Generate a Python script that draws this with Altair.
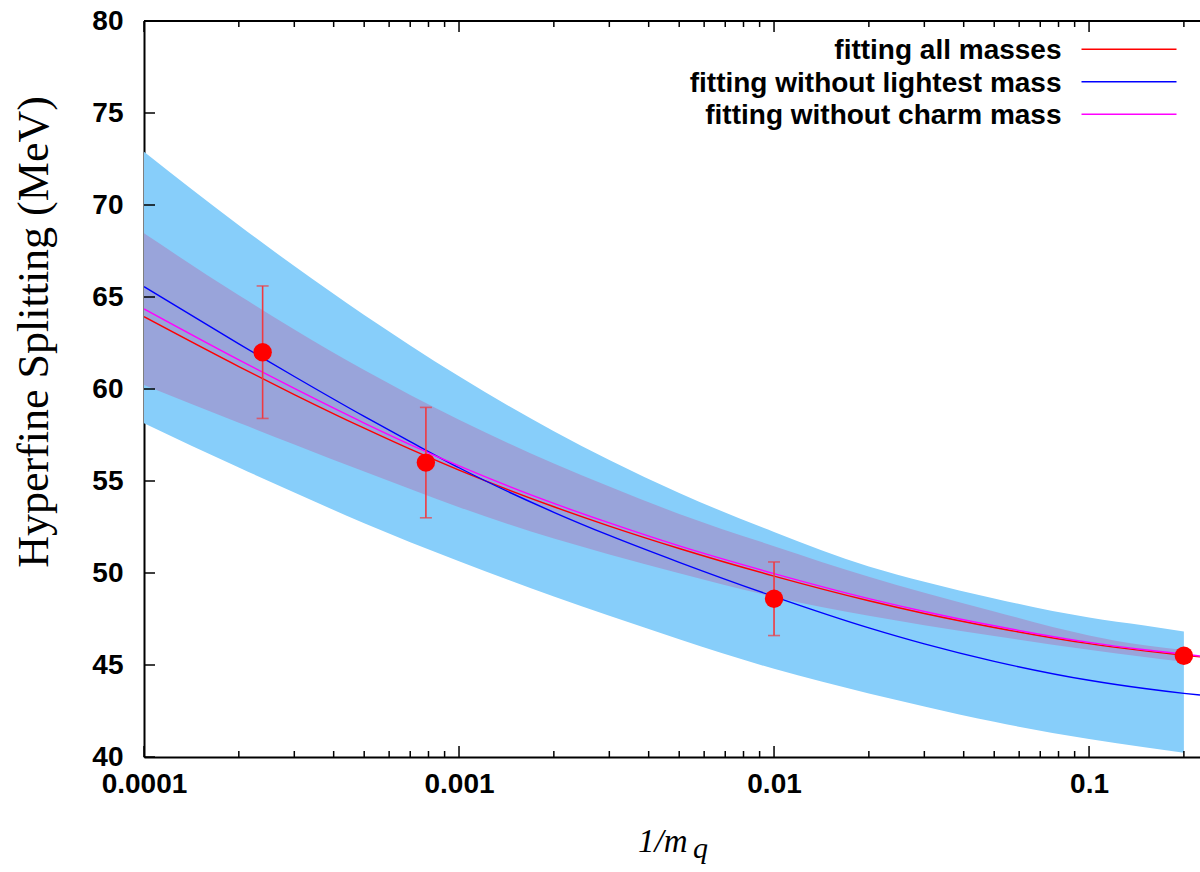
import altair as alt
import pandas as pd

# ---------------- data ----------------
x_fit = [1e-4, 2e-4, 3e-4, 5e-4, 7e-4, 1e-3, 2e-3, 3e-3, 5e-3, 1e-2, 2e-2, 3e-2, 5e-2, 0.1, 0.15, 0.2, 0.225]
fit_all = [63.93, 61.22, 59.70, 57.87, 56.73, 55.59, 53.60, 52.55, 51.33, 49.83, 48.49, 47.80, 47.04, 46.16, 45.77, 45.53, 45.44]
fit_no_light = [65.56, 62.45, 60.68, 58.51, 57.14, 55.72, 53.30, 52.04, 50.58, 48.72, 47.02, 46.15, 45.20, 44.17, 43.72, 43.46, 43.37]
fit_no_charm = [64.35, 61.58, 60.03, 58.15, 56.98, 55.82, 53.78, 52.72, 51.47, 49.97, 48.61, 47.91, 47.13, 46.23, 45.83, 45.59, 45.49]

x_band = [1e-4, 2e-4, 3e-4, 5e-4, 7e-4, 1e-3, 2e-3, 3e-3, 5e-3, 1e-2, 2e-2, 3e-2, 5e-2, 0.1, 0.15, 0.2]
outer_hi = [72.90, 68.90, 66.68, 64.02, 62.37, 60.69, 57.70, 56.14, 54.35, 52.23, 50.36, 49.53, 48.62, 47.58, 47.14, 46.82]
outer_lo = [58.14, 55.73, 54.38, 52.70, 51.67, 50.64, 48.72, 47.67, 46.40, 44.79, 43.45, 42.75, 41.91, 40.98, 40.53, 40.23]
inner_hi = [68.46, 65.09, 63.24, 61.03, 59.68, 58.33, 55.95, 54.70, 53.21, 51.46, 49.80, 48.93, 47.91, 46.61, 46.07, 45.82]
inner_lo = [60.22, 58.17, 56.99, 55.51, 54.56, 53.58, 51.87, 51.01, 49.99, 48.70, 47.67, 47.16, 46.58, 45.83, 45.43, 45.17]

pt_x = [2.38e-4, 7.85e-4, 1.0e-2, 0.2]
pt_y = [62.0, 56.0, 48.6, 45.5]
pt_err = [3.6, 3.0, 2.0, 0.0]

series_names = ["fitting all masses", "fitting without lightest mass", "fitting without charm mass"]
series_colors = ["#ff0000", "#0000ff", "#ff00ff"]

x_major = [1e-4, 1e-3, 1e-2, 1e-1]
x_minor = [k * 10.0 ** e for e in (-4, -3, -2, -1) for k in range(2, 10) if k * 10.0 ** e <= 0.225]
y_major = [40, 45, 50, 55, 60, 65, 70, 75, 80]

# ---------------- layout ----------------
W, H = 1056, 736
SANS = "Liberation Sans"
SERIF = "Liberation Serif"

xscale = alt.Scale(type="log", domain=[1e-4, 0.225], nice=False)
yscale = alt.Scale(domain=[40, 80], nice=False, zero=False)
xaxis = alt.Axis(values=x_major, format="~g", ticks=False, tickSize=0, labelPadding=13,
                 labelFont=SANS, labelFontSize=28, labelFontWeight="bold", labelColor="black",
                 labelFlush=False, labelOverlap=False, domainColor="black", domainWidth=2,
                 grid=False, title=None)
yaxis = alt.Axis(values=y_major, ticks=False, tickSize=0, labelPadding=21,
                 labelFont=SANS, labelFontSize=28, labelFontWeight="bold", labelColor="black",
                 labelFlush=False, labelOverlap=False, domainColor="black", domainWidth=2,
                 grid=False, title=None)


def X(f):
    return alt.X(f, type="quantitative", scale=xscale, axis=xaxis)


def Y(f):
    return alt.Y(f, type="quantitative", scale=yscale, axis=yaxis)


band_df = pd.DataFrame({"x": x_band, "ohi": outer_hi, "olo": outer_lo, "ihi": inner_hi, "ilo": inner_lo})
outer = alt.Chart(band_df).mark_area(color="#87cefa", opacity=1, interpolate="monotone").encode(
    x=X("x"), y=Y("olo"), y2="ohi")
inner = alt.Chart(band_df).mark_area(color="#99a4da", opacity=1, interpolate="monotone").encode(
    x=X("x"), y=Y("ilo"), y2="ihi")

line_layers = []
for name, vals, col in zip(series_names, [fit_all, fit_no_light, fit_no_charm], series_colors):
    d = pd.DataFrame({"x": x_fit, "y": vals})
    line_layers.append(alt.Chart(d).mark_line(color=col, strokeWidth=1.4, interpolate="monotone", clip=True).encode(
        x=X("x"), y=Y("y")))

pts = pd.DataFrame({"x": pt_x, "y": pt_y, "err": pt_err})
pts["lo"] = pts["y"] - pts["err"]
pts["hi"] = pts["y"] + pts["err"]
ebar = alt.Chart(pts).mark_rule(color="#f03a40", strokeWidth=1.6).encode(x=X("x"), y=Y("lo"), y2="hi")
cap_lo = alt.Chart(pts).mark_tick(color="#f03a40", orient="horizontal", size=12, thickness=1.6).encode(x=X("x"), y=Y("lo"))
cap_hi = alt.Chart(pts).mark_tick(color="#f03a40", orient="horizontal", size=12, thickness=1.6).encode(x=X("x"), y=Y("hi"))
dots = alt.Chart(pts).mark_point(filled=True, color="#ff0000", size=340, opacity=1, shape="circle").encode(x=X("x"), y=Y("y"))

# inward ticks (gnuplot style), drawn from the tick value lists through the scales
xmaj_df = pd.DataFrame({"v": x_major})
xmin_df = pd.DataFrame({"v": x_minor})
ymaj_df = pd.DataFrame({"v": y_major})
tick_layers = [
    alt.Chart(xmaj_df).mark_rule(color="black", strokeWidth=1.5).encode(x=X("v"), y=alt.value(H), y2=alt.value(H - 11)),
    alt.Chart(xmaj_df).mark_rule(color="black", strokeWidth=1.5).encode(x=X("v"), y=alt.value(0), y2=alt.value(11)),
    alt.Chart(xmin_df).mark_rule(color="black", strokeWidth=1.5).encode(x=X("v"), y=alt.value(H), y2=alt.value(H - 6)),
    alt.Chart(xmin_df).mark_rule(color="black", strokeWidth=1.5).encode(x=X("v"), y=alt.value(0), y2=alt.value(6)),
    alt.Chart(ymaj_df).mark_rule(color="black", strokeWidth=1.5).encode(y=Y("v"), x=alt.value(0), x2=alt.value(11)),
]

one = pd.DataFrame({"a": [0]})
top_border = alt.Chart(one).mark_rule(color="black", strokeWidth=2).encode(
    x=alt.value(0), x2=alt.value(W), y=alt.value(0))

# legend (manual, gnuplot style: text right-aligned, sample line to the right)
legend_layers = []
for i, (name, col) in enumerate(zip(series_names, series_colors)):
    ly = 28.3 + 32.5 * i
    legend_layers.append(alt.Chart(one).mark_text(font=SANS, fontSize=28, fontWeight="bold", align="right",
                                                   baseline="alphabetic", color="black").encode(
        x=alt.value(917.5), y=alt.value(ly + 10), text=alt.value(name)))
    legend_layers.append(alt.Chart(one).mark_rule(color=col, strokeWidth=1.4).encode(
        x=alt.value(937.5), x2=alt.value(1032.5), y=alt.value(ly)))

# axis titles
ytitle = alt.Chart(one).mark_text(font=SERIF, fontSize=44, angle=270, align="center", baseline="alphabetic",
                                  color="black").encode(
    x=alt.value(-96), y=alt.value(311), text=alt.value("Hyperfine Splitting (MeV)"))
xtitle_main = alt.Chart(one).mark_text(font=SERIF, fontSize=33, fontStyle="italic", align="left",
                                       baseline="alphabetic", color="black").encode(
    x=alt.value(494), y=alt.value(831), text=alt.value("1/m"))
xtitle_sub = alt.Chart(one).mark_text(font=SERIF, fontSize=30, fontStyle="italic", align="left",
                                      baseline="alphabetic", color="black").encode(
    x=alt.value(549), y=alt.value(837), text=alt.value("q"))

chart = alt.layer(
    outer, inner, *line_layers, ebar, cap_lo, cap_hi, dots, *tick_layers, top_border,
    *legend_layers, ytitle, xtitle_main, xtitle_sub
).properties(
    width=W, height=H,
    autosize=alt.AutoSizeParams(type="none"),
    padding={"left": 144, "top": 21, "right": 0, "bottom": 115},
    background="white",
).configure_view(stroke=None)

chart.save("out.html", embed_options={"renderer": "svg", "actions": False})
